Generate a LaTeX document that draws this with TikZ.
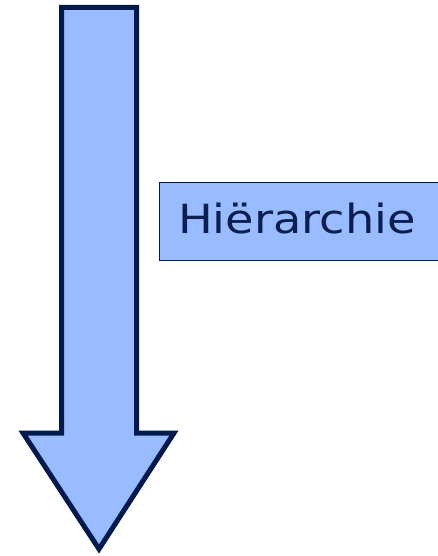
\documentclass[tikz,border=0pt]{standalone}
\usepackage{fontspec}
\setmainfont{DejaVu Sans}
\newfontfamily\widesans[FakeStretch=1.15]{DejaVu Sans}
\definecolor{arrowfill}{HTML}{99BBFF}
\definecolor{navy}{HTML}{001A4D}
\definecolor{textnavy}{HTML}{0A1F4F}
\begin{document}
\begin{tikzpicture}[x=1pt,y=-1pt,
  bigarrow/.style={fill=arrowfill,draw=navy,line width=5pt,line join=miter},
  labelbox/.style={fill=arrowfill,draw=navy,line width=1pt,inner sep=0pt,
    minimum width=279pt,minimum height=77.5pt,anchor=north west},
  labeltext/.style={text=textnavy,font=\widesans\fontsize{40.2}{48}\selectfont,
    anchor=base west,inner sep=0pt}]
\useasboundingbox (0,0) rectangle (438,556);
\path[bigarrow] (61.5,7.5) -- (136.5,7.5) -- (136.5,433) -- (174,433) -- (99,549)
  -- (23,433) -- (61.5,433) -- cycle;
\node[labelbox] (h) at (158.5,182) {};
\node[labeltext] (t) at (178,233.3) {Hiërarchie};
\end{tikzpicture}
\end{document}
